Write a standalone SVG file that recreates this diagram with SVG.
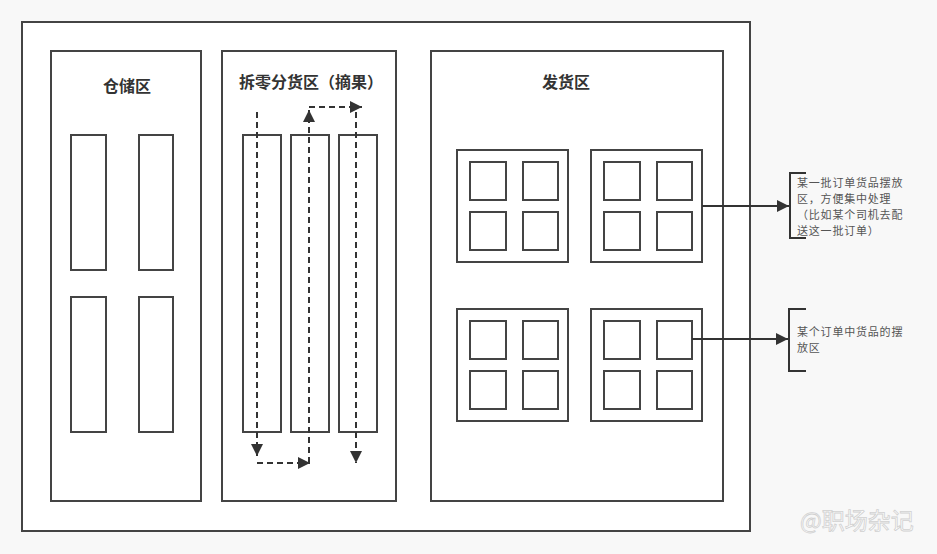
<svg xmlns="http://www.w3.org/2000/svg" width="937" height="554" viewBox="0 0 937 554">
<style>
.box{fill:#fff;stroke:#444;stroke-width:2}
.title{font-family:"Noto Sans CJK SC","Noto Sans",sans-serif;font-size:16px;font-weight:bold;fill:#333;text-anchor:middle}
.note{font-family:"Noto Sans CJK SC","Noto Sans",sans-serif;font-size:11px;letter-spacing:0.8px;fill:#555}
.dash{fill:none;stroke:#333;stroke-width:2;stroke-dasharray:6 4}
.solid{fill:none;stroke:#333;stroke-width:2}
.brk{fill:none;stroke:#333;stroke-width:2}
</style>
<defs>
<marker id="ah" viewBox="0 0 10 10" refX="10" refY="5" markerWidth="6" markerHeight="6" markerUnits="strokeWidth" orient="auto">
<path d="M0,0 L10,5 L0,10 z" fill="#333"/>
</marker>
<g id="cell">
<rect class="box" x="0" y="0" width="111" height="112"/>
<rect class="box" x="13" y="12" width="36" height="38"/>
<rect class="box" x="66" y="12" width="35" height="38"/>
<rect class="box" x="13" y="62" width="36" height="38"/>
<rect class="box" x="66" y="62" width="35" height="38"/>
</g>
</defs>
<rect x="0" y="0" width="937" height="554" fill="#f8f8f8"/>
<g id="frame"><rect class="box" x="22" y="22" width="728" height="509"/></g>

<g id="storage">
<rect class="box" x="51" y="51" width="150" height="450"/>
<text class="title" x="127" y="92">仓储区</text>
<rect class="box" x="71" y="135" width="35" height="135"/>
<rect class="box" x="139" y="135" width="34" height="135"/>
<rect class="box" x="71" y="297" width="35" height="135"/>
<rect class="box" x="139" y="297" width="34" height="135"/>
</g>

<g id="picking">
<rect class="box" x="222" y="51" width="174" height="450"/>
<text class="title" x="311" y="88">拆零分货区（摘果）</text>
<rect class="box" x="243" y="135" width="38" height="297"/>
<rect class="box" x="291" y="135" width="38" height="297"/>
<rect class="box" x="339" y="135" width="38" height="297"/>
</g>

<g id="shipping">
<rect class="box" x="431" y="51" width="292" height="450"/>
<text class="title" x="566" y="88">发货区</text>
<use href="#cell" x="457" y="150"/>
<use href="#cell" x="591" y="150"/>
<use href="#cell" x="457" y="309"/>
<use href="#cell" x="591" y="309"/>
</g>

<g id="note1">
<path class="brk" d="M806,173 H790 V238 H806"/>
<text class="note" x="797" y="187">某一批订单货品摆放</text>
<text class="note" x="797" y="203">区，方便集中处理</text>
<text class="note" x="797" y="219">（比如某个司机去配</text>
<text class="note" x="797" y="235">送这一批订单）</text>
</g>

<g id="note2">
<path class="brk" d="M806,309 H789 V371 H806"/>
<text class="note" x="797" y="336">某个订单中货品的摆</text>
<text class="note" x="797" y="352">放区</text>
</g>

<g id="connectors">
<path class="dash" d="M257,112 V456" marker-end="url(#ah)"/>
<path class="dash" d="M257,463 H310" marker-end="url(#ah)"/>
<path class="dash" d="M309,463 V110" marker-end="url(#ah)"/>
<path class="dash" d="M309,107 H362" marker-end="url(#ah)"/>
<path class="dash" d="M356,112 V463" marker-end="url(#ah)"/>
<path class="solid" d="M702,206 H789" marker-end="url(#ah)"/>
<path class="solid" d="M692,339 H788" marker-end="url(#ah)"/>
</g>

<g id="watermark">
<text x="800" y="529" font-family="'Noto Sans CJK SC',sans-serif" font-size="23" fill="#fff" stroke="#d0d0d0" stroke-width="0.8">@职场杂记</text>
</g>
</svg>
